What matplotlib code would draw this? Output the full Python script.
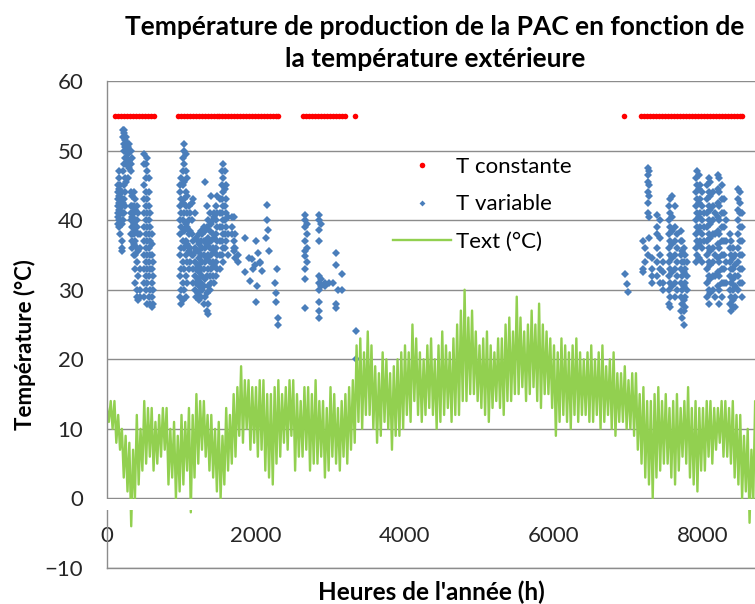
import numpy as np
import matplotlib
matplotlib.use("Agg")
import matplotlib.pyplot as plt
import matplotlib.transforms as mtransforms
from matplotlib.patches import Rectangle

plt.rcParams['font.family'] = ['Lato', 'DejaVu Sans']

# --- data ---
# outdoor temperature, alternating high / low readings every 25 h
text_hours = np.arange(0, 8800, 25)
text_values = [
    13, 11, 14, 10, 14, 8, 12, 7, 10, 3, 9, 1, 8, -4, 7, 0, 12, 2, 10, 4,
    14, 5, 13, 6, 13, 4, 11, 5, 12, 6, 13, 7, 13, 2, 10, 3, 11, 0, 9, 1,
    12, 2, 11, 4, 13, -2, 12, 3, 15, 5, 14, 7, 14, 6, 12, 4, 12, 3, 10, 1,
    11, 0, 9, 2, 13, 4, 12, 5, 15, 6, 16, 9, 19, 8, 17, 10, 17, 7, 16, 8,
    16, 6, 17, 7, 17, 4, 15, 3, 15, 2, 16, 5, 17, 6, 15, 8, 16, 7, 17, 9,
    17, 4, 15, 6, 14, 6, 16, 7, 16, 4, 15, 5, 17, 5, 14, 6, 14, 3, 13, 4,
    16, 6, 15, 5, 13, 4, 14, 6, 15, 5, 16, 7, 17, 8, 22, 11, 23, 10, 21, 12,
    24, 12, 22, 10, 19, 8, 18, 9, 21, 11, 20, 10, 18, 7, 19, 9, 20, 9, 21, 10,
    22, 12, 21, 11, 25, 14, 23, 12, 21, 11, 20, 12, 22, 13, 23, 12, 20, 10, 22, 11,
    24, 12, 22, 13, 21, 11, 23, 12, 25, 12, 27, 14, 30, 14, 26, 15, 27, 15, 24, 14,
    22, 13, 23, 12, 24, 11, 22, 13, 21, 14, 23, 13, 23, 12, 25, 14, 26, 14, 24, 15,
    29, 15, 26, 16, 24, 14, 25, 15, 27, 16, 25, 14, 28, 13, 25, 15, 24, 15, 23, 13,
    22, 9, 21, 11, 23, 12, 22, 11, 21, 10, 22, 12, 23, 11, 21, 12, 20, 12, 21, 11,
    22, 11, 20, 12, 21, 10, 22, 11, 19, 12, 20, 10, 21, 9, 18, 11, 18, 11, 19, 10,
    17, 10, 18, 9, 18, 7, 15, 5, 16, 3, 14, 2, 14, 0, 15, 3, 16, 4, 14, 5,
    15, 5, 13, 3, 14, 2, 15, 4, 13, 6, 14, 5, 16, 3, 13, 2, 14, 1, 13, 4,
    13, 4, 14, 6, 14, 5, 13, 7, 13, 8, 14, 6, 14, 6, 13, 5, 14, 3, 12, 2,
    12, 0, 9, 1, 10, -3.5, 7, 0, 14, 2, 12, 5,
]

# hours where the production temperature is held constant at 55 °C
const_hours = [
    110, 150, 190, 230, 270, 310, 350, 390, 430, 470, 510, 550, 590, 630,
    950, 990, 1030, 1070, 1110, 1150, 1190, 1230, 1270, 1310, 1350, 1390,
    1430, 1470, 1510, 1550, 1590, 1630, 1670, 1710, 1750, 1790, 1830, 1870,
    1910, 1950, 1990, 2030, 2070, 2110, 2150, 2190, 2230, 2270, 2300,
    2630, 2670, 2710, 2745,
    2790, 2830, 2870, 2910, 2950, 3000, 3040, 3080, 3120, 3160, 3195,
    3330, 6940,
    7170, 7210, 7250, 7290, 7330, 7370, 7410, 7450, 7490, 7530, 7570, 7610,
    7650, 7690, 7730, 7770, 7810, 7850, 7890, 7930, 7970, 8010, 8050, 8090,
    8130, 8170, 8210, 8250, 8290, 8330, 8370, 8410, 8450, 8490, 8520,
]
const_temp = 55

# variable production temperature: hour -> temperatures read at that hour
var_columns = [
    (150, [39.5, 40.5, 41, 42, 43, 44, 45]),
    (165, [39, 40, 41.5, 42.5, 43.5, 44.5, 46, 47]),
    (180, [38, 40, 41, 42, 43, 44, 45]),
    (195, [35.5, 36, 37, 39.5, 41, 42, 43, 44]),
    (210, [40, 41, 42.5, 47, 52, 53]),
    (225, [41, 43, 45, 48, 50, 51, 52.5, 53]),
    (240, [42, 44, 46, 49, 50.5, 51.5, 52]),
    (260, [45.5, 48, 49, 50, 51, 52]),
    (280, [46, 48, 49.5, 50.5, 51]),
    (300, [47.5, 48.5, 50, 51]),
    (320, [38, 40, 41, 42, 44, 47, 48, 50]),
    (340, [36, 37, 38, 39, 40.5, 42, 43.5, 49]),
    (360, [35, 36.5, 38, 39.5, 41, 42, 44]),
    (380, [31, 33, 35, 37, 38.5, 40, 41.5, 43]),
    (400, [29, 30, 34, 36, 39, 40, 42]),
    (420, [28.5, 32, 35.5, 38, 41]),
    (440, [29, 30, 33, 36, 38]),
    (500, [29, 31, 33, 35, 37, 39, 41, 43, 45, 48, 49.5]),
    (520, [30, 32, 34, 36, 38, 40, 42, 44, 46, 48]),
    (540, [28, 31, 33, 35, 37, 39, 41, 43, 47, 49]),
    (560, [29, 32, 34, 36, 38, 40, 42, 44, 46]),
    (580, [28, 30, 33, 35, 37, 39, 41]),
    (600, [27.5, 29, 31, 33, 35, 36.5, 38]),
    (620, [28, 30, 32, 34]),
    (980, [29, 32, 35, 38, 40, 42, 44, 45]),
    (1000, [28, 30, 33, 36, 39, 41, 43, 46]),
    (1020, [28.5, 31, 34, 37, 40, 42.5, 45, 47, 49]),
    (1040, [30, 33, 36, 38.5, 41, 43, 45.5, 48, 50, 51]),
    (1060, [29, 32, 35, 37, 39.5, 42, 44, 47, 49.5]),
    (1080, [31, 34, 36.5, 39, 41, 43.5, 46]),
    (1100, [33, 35.5, 38, 40, 42]),
    (1120, [34, 36, 38.5, 41]),
    (1140, [35, 38, 40, 42.5]),
    (1160, [31, 33, 35, 37, 43]),
    (1180, [30, 32, 34, 36, 41]),
    (1200, [29, 31, 33, 35.5, 37.5]),
    (1220, [29.5, 31.5, 33.5, 35.5, 37]),
    (1240, [28.5, 30.5, 32.5, 34.5, 36.5, 38]),
    (1260, [29, 31, 33, 35, 37, 38.5]),
    (1280, [30, 32, 34, 36, 38]),
    (1300, [28, 30.5, 33, 35, 37, 39]),
    (1320, [29, 31.5, 34, 36, 38.5, 45.5]),
    (1340, [27, 29.5, 32, 34.5, 36.5, 39, 42]),
    (1360, [26.5, 28, 30.5, 33, 35, 37.5, 40]),
    (1380, [30, 32, 34, 36, 38.5, 41]),
    (1400, [31, 33, 35, 37, 39.5, 43.5]),
    (1420, [32, 34, 36, 38, 40]),
    (1440, [31, 33.5, 35.5, 37.5, 40.5, 41]),
    (1460, [32, 34, 36, 38, 40, 42]),
    (1480, [33, 35, 37, 39, 41, 43.5]),
    (1520, [33, 35, 37, 39, 41, 43]),
    (1540, [35, 37, 39, 41, 43, 45, 47]),
    (1560, [34, 36, 38, 40, 42, 44, 46, 48]),
    (1580, [36, 38, 40, 42, 44.5, 47]),
    (1600, [37, 39, 41, 43, 45]),
    (1620, [35, 38, 40.5]),
    (1680, [38, 39, 40.5]),
    (1700, [35.5, 36, 37, 40.5]),
    (1720, [34.5, 36, 38]),
    (1760, [34, 35]),
    (1850, [32.5, 37.4]),
    (1900, [34.6]),
    (1920, [31.3]),
    (1940, [34.4]),
    (1960, [33]),
    (1990, [33.5]),
    (2000, [28.2, 37]),
    (2010, [30.6]),
    (2030, [35.3]),
    (2050, [34]),
    (2060, [33.9]),
    (2080, [32.7]),
    (2140, [37.4]),
    (2150, [40, 42.2]),
    (2160, [38.6]),
    (2180, [35.5]),
    (2260, [31]),
    (2270, [28.2, 29.5]),
    (2280, [33]),
    (2300, [24.9, 26]),
    (2660, [27.3, 31.5, 33, 34.8, 35.5, 37, 39, 40, 40.8]),
    (2680, [34, 36, 38, 39.5]),
    (2840, [26, 27, 28.2, 30, 31, 32, 37, 38.6, 40, 40.8]),
    (2870, [30.5, 31.5, 39.5]),
    (2920, [30.5, 31]),
    (2980, [31]),
    (3030, [31]),
    (3080, [27.3, 28, 33.6, 35.3]),
    (3100, [30]),
    (3150, [30, 32.2]),
    (3340, [20, 24]),
    (6954, [32.2]),
    (6975, [30.8]),
    (6997, [29.6]),
    (7200, [32.5, 33, 37]),
    (7220, [34, 36]),
    (7260, [35, 41, 42.5, 44, 45.5, 46.5, 47.5]),
    (7280, [37.5, 40.5, 43.5, 45, 47]),
    (7310, [31, 32, 33, 34.5]),
    (7380, [32, 34, 36, 38, 39, 40.8]),
    (7420, [31, 33, 35, 37.5, 40]),
    (7460, [30, 31, 32.5, 34]),
    (7540, [28, 30, 32, 34, 36, 38, 40, 42]),
    (7560, [27.5, 29, 31, 33, 35, 37, 39, 41, 43]),
    (7590, [30.5, 32.5, 34.5, 36.5, 38.5, 40.5, 43.5]),
    (7620, [29, 31, 33, 35, 37, 39, 42]),
    (7650, [30, 32, 34, 36, 38]),
    (7700, [27, 29, 31, 33, 35, 37, 38.5]),
    (7720, [26, 28, 30, 32, 34, 35.5, 37]),
    (7740, [25, 27, 28.5, 30.5, 32.5, 34, 36]),
    (7760, [27.5, 29, 31, 33, 35]),
    (7790, [30, 32, 34]),
    (7900, [34, 36, 38, 40, 42, 44, 46]),
    (7920, [35, 37, 39, 41, 43, 45, 47]),
    (7940, [34.5, 36.5, 38.5, 40.5, 42.5, 44.5, 46.5]),
    (7960, [37, 39, 41, 43, 45]),
    (7990, [34, 36, 38, 40, 42, 44]),
    (8020, [37, 39, 41]),
    (8060, [29, 31, 33, 35, 37, 39, 41, 43, 45]),
    (8080, [28, 30, 32, 34, 36, 38, 40, 42, 44, 46]),
    (8100, [29.5, 31.5, 33.5, 35.5, 37.5, 39.5, 41.5, 43.5, 45.5]),
    (8130, [30, 32, 34, 36, 38, 40, 42, 44]),
    (8160, [29, 32, 35, 38, 41]),
    (8200, [30.5, 32.5, 34.5, 36.5, 38.5, 40.5, 42.5, 44.5, 46.5]),
    (8220, [28, 30, 32, 34, 36, 38, 40, 42, 44, 46]),
    (8250, [29, 31, 33, 35, 37, 39, 41, 43, 45]),
    (8280, [31, 33, 35, 37, 39, 41, 43]),
    (8310, [31, 34, 37, 40]),
    (8360, [28, 30, 32, 34, 36, 38]),
    (8380, [27, 29, 31, 33, 35, 37]),
    (8400, [27.5, 28.5, 30, 31.5, 33, 34.5, 36]),
    (8430, [27.5, 29, 30.5, 32, 33.5, 35]),
    (8470, [30, 32, 34, 36, 38, 40, 41.5, 43, 44.5]),
    (8490, [31, 33, 35, 37, 39, 41, 42.5, 44]),
    (8520, [29, 31, 33, 35, 37, 39, 41]),
]

x_ticks = [0, 2000, 4000, 6000, 8000]
y_ticks = [-10, 0, 10, 20, 30, 40, 50, 60]

var_hours = [h for h, temps in var_columns for t in temps]
var_temps = [t for h, temps in var_columns for t in temps]

fig = plt.figure(figsize=(7.55, 6.04), dpi=100)
ax = fig.add_axes([107 / 755, 36 / 604, 648 / 755, 487 / 604])

ax.plot(const_hours, [const_temp] * len(const_hours), 'o', color='#ff0000',
        ms=4, mew=0, label='T constante')
ax.plot(var_hours, var_temps, 'D', color='#4a7ebb', ms=3.8, mew=0,
        label='T variable')
ax.plot(text_hours, text_values[:len(text_hours)], '-', color='#92d050', lw=1.7,
        label='Text (°C)')

ax.set_xlim(0, 8698)
ax.set_ylim(-10, 60)
ax.set_yticks(y_ticks)
ax.set_xticks(x_ticks)
ax.yaxis.grid(True, color='#8c8c8c', lw=1)
ax.set_axisbelow(True)

for side in ['top', 'right']:
    ax.spines[side].set_visible(False)
for side in ['left', 'bottom']:
    ax.spines[side].set_color('#8c8c8c')
    ax.spines[side].set_linewidth(1)

ax.tick_params(axis='y', length=0, pad=17, labelsize=16, colors='#262626')
ax.tick_params(axis='x', length=0, pad=-30, labelsize=16, colors='#262626')

# white band under the zero line, where the category labels sit in the original
band = Rectangle((-0.01, -1.6), 1.02, 1.45,
                 transform=mtransforms.blended_transform_factory(ax.transAxes, ax.transData),
                 facecolor='white', edgecolor='none', zorder=3, clip_on=False)
ax.add_patch(band)

leg = ax.legend(loc='upper left', bbox_to_anchor=(393 / 755, 1 - 157 / 604),
                bbox_transform=fig.transFigure, frameon=False, fontsize=16,
                handlelength=2.6, handletextpad=0.25, labelspacing=0.78,
                borderpad=0, borderaxespad=0)
leg.legend_handles[1].set_markersize(3)

fig.text(435 / 755, 1 - 15 / 604,
         'Température de production de la PAC en fonction de\nla température extérieure',
         ha='center', va='top', fontsize=19, fontweight='bold', linespacing=1.4)
fig.text(25 / 755, 1 - 345 / 604, 'Température (°C)', rotation=90,
         ha='center', va='center', fontsize=16, fontweight='bold')
fig.text(431 / 755, 1 - 592 / 604, "Heures de l'année (h)",
         ha='center', va='center', fontsize=17.5, fontweight='bold')

fig.savefig('out.png', dpi=100)
